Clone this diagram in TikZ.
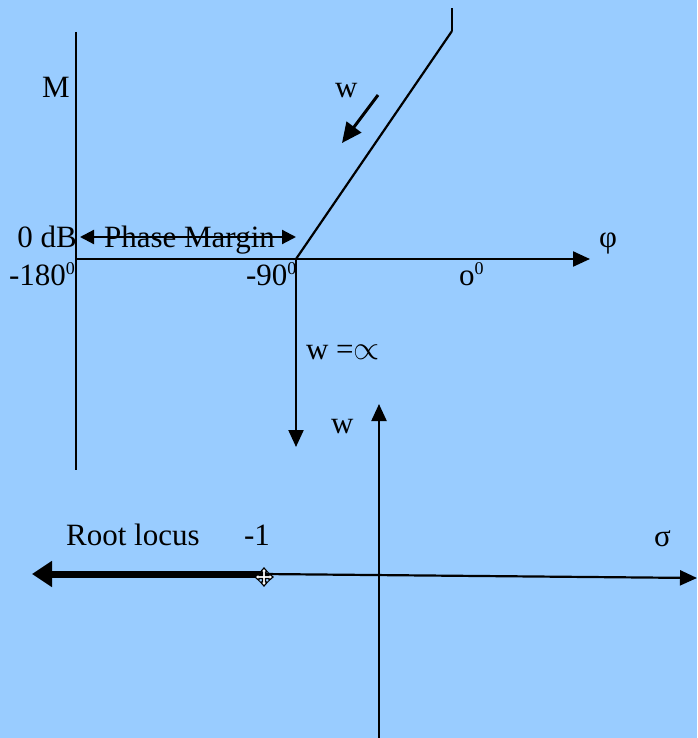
\documentclass[tikz,border=0pt]{standalone}
\usepackage{fontspec}
\setmainfont{Liberation Serif}
\usetikzlibrary{arrows.meta}
\definecolor{bg}{HTML}{99CCFF}
\newcommand{\supz}{\raisebox{11pt}{\fontsize{18}{18}\selectfont 0}}
\begin{document}
\begin{tikzpicture}[x=1pt,y=-1pt, line width=2.2pt,
  txt/.style={anchor=base west, inner sep=0, font=\fontsize{31}{33}\selectfont},
  tipa/.style={-{Triangle[length=17pt,width=15pt]}},
  dtip/.style={{Triangle[length=14pt,width=14pt]}-{Triangle[length=14pt,width=14pt]}},
  bigtip/.style={line width=7pt,-{Triangle[length=20pt,width=25pt]}}]
\fill[bg] (0,0) rectangle (697,738);
\useasboundingbox (0,0) rectangle (697,738);
% coordinates
\coordinate (mtop) at (76,32);
\coordinate (mbot) at (76,470);
\coordinate (origin) at (76,259);
\coordinate (phiend) at (590,259);
\coordinate (m90) at (296,259);
\coordinate (diagtop) at (452,31);
\coordinate (ticktop) at (452,8);
\coordinate (wa) at (378,95);
\coordinate (wb) at (342,143);
\coordinate (pml) at (80,237);
\coordinate (pmr) at (296,237);
\coordinate (dend) at (296,447);
\coordinate (ubot) at (379,738);
\coordinate (utop) at (379,404);
\coordinate (minus1) at (263,574);
\coordinate (sigend) at (697,578);
\coordinate (rlend) at (32,574);
\coordinate (cur) at (264,577);
% upper plot
\draw (mtop) -- (mbot);
\draw[tipa] (origin) -- (phiend);
\draw (m90) -- (diagtop);
\draw (diagtop) -- (ticktop);
\draw[line width=3pt,-{Triangle[length=20pt,width=18pt]}] (wa) -- (wb);
\draw[dtip] (pml) -- (pmr);
\draw[tipa] (m90) -- (dend);
% lower plot
\draw[tipa] (ubot) -- (utop);
\draw[tipa] (minus1) -- (sigend);
\draw[bigtip] (minus1) -- (rlend);
% cursor mark
\filldraw[fill=white,draw=black,line width=1.2pt,shift={(cur)}]
 (-1.5,-5) -- (-3.5,-5) -- (0,-9) -- (3.5,-5) -- (1.5,-5) -- (1.5,-1.5) -- (5,-1.5) -- (5,-3.5) -- (9,0) -- (5,3.5) -- (5,1.5) -- (1.5,1.5) -- (1.5,5) -- (3.5,5) -- (0,9) -- (-3.5,5) -- (-1.5,5) -- (-1.5,1.5) -- (-5,1.5) -- (-5,3.5) -- (-9,0) -- (-5,-3.5) -- (-5,-1.5) -- (-1.5,-1.5) -- cycle;
% texts
\node[txt] (tM) at (41,98) {M};
\node[txt] (tw1) at (334,98) {w};
\node[txt,anchor=base east] (t0db) at (78,247) {0 dB};
\node[txt] (tpm) at (103,247) {Phase Margin};
\node[txt] (t180) at (8,285) {-180\supz};
\node[txt] (t90) at (245,285) {-90\supz};
\node[txt] (to) at (458,285) {o\supz};
\node[txt] (tphi) at (598,247) {φ};
\node[txt] (twinf) at (305,359) {w =\scalebox{1.35}{$\propto$}};
\node[txt] (tw2) at (330,433) {w};
\node[txt] (trl) at (65,545) {Root locus};
\node[txt] (tm1) at (243,545) {-1};
\node[txt] (tsig) at (653,546) {σ};
\end{tikzpicture}
\end{document}
